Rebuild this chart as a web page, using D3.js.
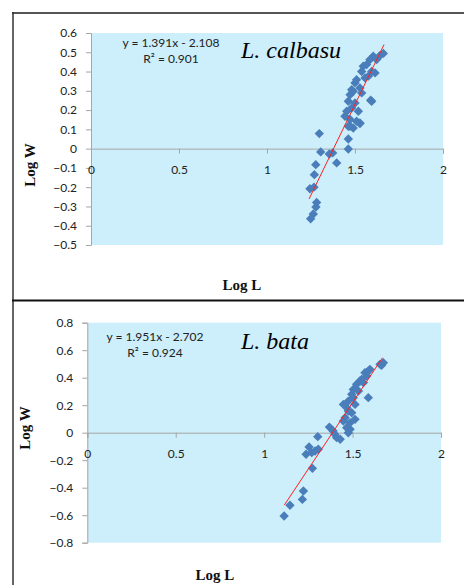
<!DOCTYPE html>
<html><head><meta charset="utf-8">
<script src="https://cdn.jsdelivr.net/npm/d3@7"></script>
<style>body{margin:0;background:#fff}svg{display:block}</style>
</head><body>
<script>
// ---- Data ----
const calbasuX = [1.297,1.305,1.354,1.373,1.396,1.277,1.269,1.244,1.267,1.282,1.278,1.263,1.248,
  1.462,1.462,1.472,1.528,1.661,1.642,1.604,1.585,1.566,1.547,1.538,1.595,1.576,1.557,1.509,1.50,
  1.528,1.481,1.538,1.589,1.595,1.472,1.462,1.50,1.481,1.453,1.528,1.509,1.472,1.462,1.49,1.443,1.519,1.623,1.614,1.49];
const calbasuY = [0.078,-0.017,-0.028,-0.022,-0.074,-0.083,-0.135,-0.208,-0.200,-0.279,-0.303,-0.339,-0.364,
  -0.002,0.050,0.116,0.130,0.494,0.483,0.480,0.462,0.436,0.428,0.400,0.400,0.376,0.367,0.358,0.341,
  0.315,0.306,0.289,0.251,0.246,0.280,0.246,0.237,0.211,0.194,0.133,0.142,0.151,0.116,0.107,0.168,0.194,0.462,0.393,0.298];
const calbasuLine = {x: [1.239, 1.665], y: [-0.261, 0.540]};

const bataX = [1.113,1.146,1.216,1.222,1.273,1.237,1.254,1.288,1.303,1.269,1.306,1.369,1.40,1.43,1.39,
  1.458,1.486,1.476,1.467,1.448,1.486,1.514,1.495,1.476,1.448,1.476,1.514,1.495,1.504,1.523,1.542,
  1.561,1.58,1.589,1.598,1.589,1.655,1.674,1.664,1.504,1.467,1.533,1.551,1.57,1.41];
const bataY = [-0.606,-0.528,-0.485,-0.424,-0.259,-0.157,-0.104,-0.133,-0.029,-0.145,-0.120,0.041,-0.012,-0.048,0.012,
  0.109,0.025,0.000,0.036,0.085,0.073,0.097,0.145,0.158,0.206,0.230,0.206,0.279,0.315,0.352,0.376,
  0.364,0.412,0.448,0.461,0.255,0.497,0.509,0.490,0.255,0.182,0.303,0.388,0.436,-0.036];
const bataLine = {x: [1.114, 1.669], y: [-0.526, 0.545]};

const xTicks = [0, 0.5, 1, 1.5, 2];
const calbasuYTicks = [0.6,0.5,0.4,0.3,0.2,0.1,0,-0.1,-0.2,-0.3,-0.4,-0.5];
const bataYTicks = [0.8,0.6,0.4,0.2,0,-0.2,-0.4,-0.6,-0.8];
const calbasuEq = ["y = 1.391x - 2.108", "R² = 0.901"];
const bataEq = ["y = 1.951x - 2.702", "R² = 0.924"];

const W = 464, H = 585;
const svg = d3.select("body").append("svg").attr("width", W).attr("height", H);

// frames
const frame = svg.append("g").attr("fill","none");
frame.append("line").attr("x1",12).attr("x2",W).attr("y1",13).attr("y2",13).attr("stroke","#555").attr("stroke-width",2);
frame.append("line").attr("x1",13).attr("x2",13).attr("y1",12).attr("y2",H).attr("stroke","#333").attr("stroke-width",1.5);
frame.append("line").attr("x1",12).attr("x2",W).attr("y1",300.5).attr("y2",300.5).attr("stroke","#111").attr("stroke-width",2.2);

const tickFont = "12px Lato, 'Open Sans', sans-serif";

function panel(cfg) {
  const g = svg.append("g");
  const x = d3.scaleLinear().domain([0, 2]).range(cfg.xr);
  const yd = d3.extent(cfg.yTicks);
  const y = d3.scaleLinear().domain([yd[1], yd[0]]).range(cfg.yr);
  // plot area
  g.append("rect").attr("x", x(0)).attr("y", y(yd[1])).attr("width", x(2)-x(0)).attr("height", y(yd[0])-y(yd[1]))
    .attr("fill", "#cdeefb");
  // y axis
  const ya = d3.axisLeft(y).tickValues(cfg.yTicks).tickSize(5).tickPadding(9).tickFormat(d => d3.format("")(+d.toFixed(1)));
  const yg = g.append("g").attr("transform", `translate(${x(0)},0)`).call(ya);
  yg.select(".domain").attr("stroke", "#a6a6a6");
  yg.selectAll(".tick line").attr("stroke", "#a6a6a6");
  yg.selectAll("text").attr("fill", "#222").style("font", tickFont);
  // x axis at y=0
  const xa = d3.axisBottom(x).tickValues(xTicks).tickSize(5).tickPadding(12).tickFormat(d3.format(""));
  const xg = g.append("g").attr("transform", `translate(0,${y(0)})`).call(xa);
  xg.select(".domain").attr("stroke", "#a6a6a6");
  xg.selectAll(".tick line").attr("stroke", "#a6a6a6");
  xg.selectAll("text").attr("fill", "#222").style("font", tickFont);
  // points
  const sym = d3.symbol().type(d3.symbolDiamond2).size(56);
  g.append("g").selectAll("path").data(cfg.px.map((v, i) => [v, cfg.py[i]])).join("path")
    .attr("d", sym).attr("transform", d => `translate(${x(d[0])},${y(d[1])})`)
    .attr("fill", "#4a7ebb");
  // trendline
  g.append("line").attr("x1", x(cfg.line.x[0])).attr("y1", y(cfg.line.y[0]))
    .attr("x2", x(cfg.line.x[1])).attr("y2", y(cfg.line.y[1]))
    .attr("stroke", "#ff2020").attr("stroke-width", 1);
  // equation
  g.append("text").attr("x", cfg.eqX).attr("y", cfg.eqY).attr("text-anchor", "middle")
    .style("font", tickFont).attr("fill", "#222").text(cfg.eq[0]);
  g.append("text").attr("x", cfg.eqX).attr("y", cfg.eqY + 16).attr("text-anchor", "middle")
    .style("font", tickFont).attr("fill", "#222").text(cfg.eq[1]);
  // species
  g.append("text").attr("x", cfg.spX).attr("y", cfg.spY)
    .style("font", "italic 24px 'Liberation Serif', 'Times New Roman', serif").attr("fill", "#000").text(cfg.species);
  // axis titles
  g.append("text").attr("transform", `translate(${cfg.ytX},${cfg.ytY}) rotate(-90)`).attr("text-anchor", "middle")
    .style("font", "bold 15px 'Liberation Serif', 'Times New Roman', serif").attr("fill", "#111").text("Log W");
  g.append("text").attr("x", cfg.xtX).attr("y", cfg.xtY).attr("text-anchor", "middle")
    .style("font", "bold 15px 'Liberation Serif', 'Times New Roman', serif").attr("fill", "#111").text("Log L");
}

panel({xr: [91, 443], yr: [33, 245], yTicks: calbasuYTicks, px: calbasuX, py: calbasuY, line: calbasuLine,
  eq: calbasuEq, eqX: 171, eqY: 47, species: "L. calbasu", spX: 241, spY: 58,
  ytX: 35, ytY: 165, xtX: 242, xtY: 290});
panel({xr: [87.3, 441], yr: [322.7, 542.7], yTicks: bataYTicks, px: bataX, py: bataY, line: bataLine,
  eq: bataEq, eqX: 155, eqY: 341, species: "L. bata", spX: 241, spY: 349,
  ytX: 30, ytY: 428, xtX: 215, xtY: 580});
</script>
</body></html>
